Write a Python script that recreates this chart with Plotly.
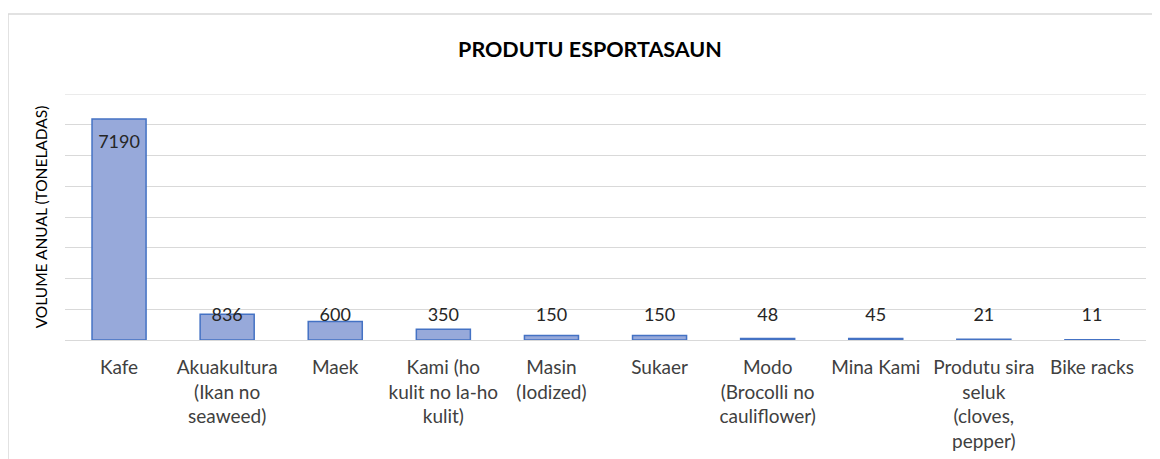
import plotly.graph_objects as go

categories = [
    "Kafe",
    "Akuakultura<br>(Ikan no<br>seaweed)",
    "Maek",
    "Kami (ho<br>kulit no la-ho<br>kulit)",
    "Masin<br>(Iodized)",
    "Sukaer",
    "Modo<br>(Brocolli no<br>cauliflower)",
    "Mina Kami",
    "Produtu sira<br>seluk<br>(cloves,<br>pepper)",
    "Bike racks",
]
values = [7190, 836, 600, 350, 150, 150, 48, 45, 21, 11]
y_ticks = [0, 1000, 2000, 3000, 4000, 5000, 6000, 7000, 8000]
title_text = "PRODUTU ESPORTASAUN"
y_title = "VOLUME ANUAL (TONELADAS)"

FONT = "Lato"
TXT = "#404040"

# page body has an 8px margin: work in figure coordinates = screen - 8
OFF = 8
W, H = 1160 - OFF, 459 - OFF
L, R, T, B = 65 - OFF, 1146 - OFF, 94 - OFF, 340 - OFF
PW, PH = R - L, B - T

# label position: "inside end" style, kept above a minimum height
label_y = [max(v - 800, 750) for v in values]

fig = go.Figure()
fig.add_trace(go.Bar(
    x=categories, y=values,
    marker=dict(color="#97A9DA", line=dict(color="#4472C4", width=1.5)),
    width=0.5,
    hoverinfo="x+y",
))
fig.add_trace(go.Scatter(
    x=categories, y=label_y, mode="text",
    text=[str(v) for v in values],
    textposition="middle center",
    textfont=dict(family=FONT, size=18, color="#262626"),
    hoverinfo="skip",
))

shapes = [dict(
    type="rect", xref="paper", yref="paper",
    x0=(8 - 65) / PW, x1=(1170 - 65) / PW,
    y0=(340 - 470) / PH, y1=(340 - 14) / PH,
    line=dict(color="#D9D9D9", width=1.5), fillcolor="rgba(0,0,0,0)", layer="below",
)]
# top gridline (plotly hides gridlines on the plot edge)
shapes.append(dict(
    type="line", xref="paper", yref="y", x0=0, x1=1, y0=y_ticks[-1], y1=y_ticks[-1],
    line=dict(color="#D9D9D9", width=1), layer="below",
))

fig.update_layout(
    width=W, height=H,
    margin=dict(l=L, r=W - R, t=T, b=H - B, autoexpand=False),
    paper_bgcolor="white", plot_bgcolor="white",
    showlegend=False,
    title=dict(text="<b>" + title_text + "</b>", x=(590 - OFF) / W, xanchor="center",
               y=1 - (49 - OFF) / H, yanchor="middle",
               font=dict(family=FONT, size=21.5, color="#000000")),
    xaxis=dict(
        tickfont=dict(family=FONT, size=19, color=TXT),
        showline=False, ticks="", showgrid=False,
        tickangle=0, ticklabelstandoff=14, automargin=False,
    ),
    yaxis=dict(
        range=[0, 8001], tickvals=y_ticks,
        showgrid=True, gridcolor="#D9D9D9", gridwidth=1,
        showticklabels=False, ticks="",
        zeroline=True, zerolinecolor="#D9D9D9", zerolinewidth=1,
        automargin=False,
        title=dict(text=y_title, font=dict(family=FONT, size=15.5, color="#000000"), standoff=12),
    ),
    shapes=shapes,
)

fig.write_html("out.html")
